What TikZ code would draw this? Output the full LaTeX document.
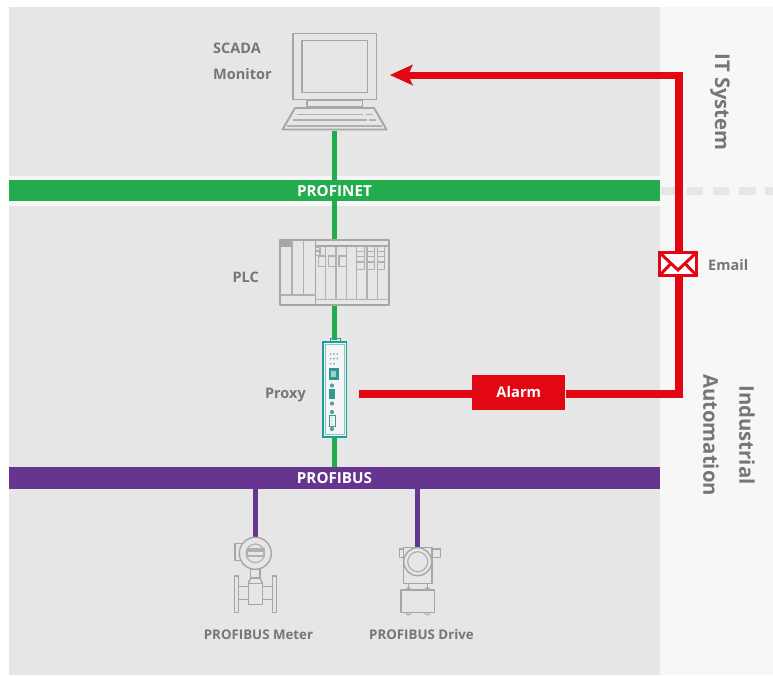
\documentclass[tikz,border=0pt]{standalone}
\usepackage{fontspec}
\setmainfont{Open Sans}
\definecolor{panel}{HTML}{E6E6E6}
\definecolor{side}{HTML}{F7F7F7}
\definecolor{gn}{HTML}{22AC4E}
\definecolor{pu}{HTML}{65358F}
\definecolor{rd}{HTML}{E30613}
\definecolor{ic}{HTML}{A6A6A6}
\definecolor{ic2}{HTML}{B0B0B0}
\definecolor{tx}{HTML}{767676}
\definecolor{tl}{HTML}{1D9E9A}
\definecolor{tg}{HTML}{5E9C9A}
\tikzset{
 lab/.style={font=\fontsize{14.5}{16}\selectfont\bfseries,text=tx,inner sep=0pt},
 lab2/.style={font=\fontsize{13.3}{15}\selectfont\bfseries,text=tx,inner sep=0pt},
 big/.style={font=\fontsize{20.3}{36}\selectfont\bfseries,text=tx,inner sep=0pt,rotate=-90,align=center},
 bus/.style={inner sep=0pt,minimum width=651pt,text=white,font=\fontsize{15.2}{16}\selectfont\bfseries},
 ico/.style={draw=ic,line width=1.9pt,line join=round},
 icm/.style={draw=ic,line width=1.4pt,line join=round},
 ict/.style={draw=ic2,line width=1.2pt},
 wire/.style={line width=5.2pt},
 redw/.style={draw=rd,line width=7.5pt},
}
\begin{document}
\begin{tikzpicture}[x=1pt,y=-1pt]
\useasboundingbox (0,0) rectangle (773,675);
\fill[white] (0,0) rectangle (773,675);
\fill[side] (660,7) rectangle (773,675);
\fill[panel] (9,7) rectangle (660,675);
\fill[side] (9,175.5) rectangle (660,206);
% dashed boundary
\draw[panel,line width=8pt,dash pattern=on 15pt off 11pt on 16pt off 10pt on 16pt off 10pt on 17pt off 9pt on 16pt off 10pt] (661,190.7) -- (773,190.7);
% buses and wires
\node[bus,fill=gn,minimum height=21pt] (profinet) at (334.5,190.5) {};
\node[bus,fill=pu,minimum height=21.5pt] (profibus) at (334.5,478.2) {};
\coordinate (scadaB) at (334.5,131);
\coordinate (proxyB) at (334.5,437);
\coordinate (meterT) at (255.3,537);
\coordinate (driveT) at (417.7,547);
\draw[gn,wire] (scadaB) -- (profinet.north -| scadaB);
\draw[gn,wire] (profinet.south -| scadaB) -- (334.5,340);
\draw[gn,wire] (proxyB) -- (profibus.north -| proxyB);
\draw[pu,wire] (meterT |- profibus.south) -- (meterT);
\draw[pu,wire] (driveT |- profibus.south) -- (driveT);
\node[text=white,font=\fontsize{15.2}{16}\selectfont\bfseries,inner sep=0pt] (pnt) at (334.5,191.5) {PROFINET};
\node[text=white,font=\fontsize{15.2}{16}\selectfont\bfseries,inner sep=0pt] (pbt) at (334.5,478.5) {PROFIBUS};
% SCADA monitor
\draw[ico,fill=panel] (293,33.5) rectangle (376.5,99.5);
\draw[icm] (302,40.5) rectangle (367.5,92.5);
\draw[ico] (307,100) rectangle (362.5,107);
\draw[ico] (295,108) -- (374,108) -- (386.5,129.5) -- (282.5,129.5) -- cycle;
\draw[ict] (287,126) -- (382,126);
\draw[ict] (297,114.5) -- (363,114.5) (366,114.5) -- (373,114.5);
\draw[ict] (293,120) -- (366.5,120) (369,120) -- (376,120);
\node[lab,anchor=west] (scada) at (213,48) {SCADA};
\node[lab,anchor=west] (monitor) at (213,74) {Monitor};
% PLC
\fill[panel] (280,240) rectangle (389,305);
\fill[ic] (280,240) rectangle (292,246.5);
\draw[ict] (292,240) -- (292,295) (303.3,240) -- (303.3,295);
\draw[ict] (280,295) -- (315.5,295);
\draw[ico] (315.5,246) -- (389,246);
\draw[ict] (315.5,299.3) -- (389,299.3);
\foreach \x in {325.5,336,346.5,356.7,367,377.3}{\draw[ict] (\x,247) -- (\x,299.3);}
\draw[ict] (315.7,247) rectangle (320,251);
\draw[ict] (315.7,251) rectangle (320,255.5);
\foreach \x in {318.3,328.7,339}{\draw[ict] (\x,256) rectangle ++(7.3,10.7);}
\foreach \x in {356.7,367,377.3}{
 \foreach \y/\h in {246.7/5,251.7/5,256.7/5.3,262/7.3}{\draw[ict] (\x,\y) rectangle ++(7.5,\h);}
}
\draw[icm] (315.5,240) -- (315.5,305);
\draw[ico] (280,240) rectangle (389,305);
\node[lab,anchor=east] (plc) at (259,277) {PLC};
% Proxy
\draw[tl,line width=1pt] (330,342) -- (330,338.3) -- (340,338.3) -- (340,342);
\fill[panel!40!white] (323,342) rectangle (346.5,437);
\draw[tl,line width=1.3pt] (323,342) rectangle (346.5,437);
\draw[tl!55!white,line width=.8pt] (325,344.5) rectangle (344.5,434);
\foreach \y in {354,358.7}{\foreach \x in {330.7,334,337.3}{\fill[tg] (\x,\y) circle (.8);}}
\foreach \x in {330.7,334}{\fill[tg] (\x,363.7) circle (.8);}
\fill[tl!80!gray] (329,368.3) rectangle (339,380);
\fill[tl!45!white] (331,370.5) rectangle (335.5,377);
\fill[tl!80!gray] (329.3,389.3) rectangle (335,399.3);
\fill[tg] (332,385.5) circle (2.1) (332,403.5) circle (2.1) (332,412) circle (2.1) (332,429) circle (2.1);
\draw[tl!70!gray,line width=.9pt] (329.5,415.5) rectangle (335.5,426);
\fill[tg] (332,418) circle (.7) (332,421) circle (.7) (332,424) circle (.7);
\node[lab,anchor=east] (proxy) at (306,395) {Proxy};
% Meter
\draw[icm,fill=panel] (235,543.5) rectangle (245,560.5);
\draw[icm] (250.7,569) rectangle (260,578);
\draw[icm] (248.3,583.3) -- (250.7,578) -- (260,578) -- (262.5,583.3);
\draw[icm,fill=panel] (234.5,576) rectangle (238.7,612.5);
\draw[icm,fill=panel] (272.3,576) rectangle (276.5,612.5);
\draw[icm] (238.7,586.7) -- (248.3,586.7) (238.7,599.3) -- (248.3,599.3) (262.5,586.7) -- (272.3,586.7) (262.5,599.3) -- (272.3,599.3);
\draw[icm,fill=panel] (248.3,583.3) rectangle (262.5,604.5);
\draw[icm,fill=panel] (255.3,553.3) circle (16);
\draw[ict] (255.3,553.3) circle (9.3);
\draw[ict] (247.5,549) rectangle (264,556);
\draw[ict] (247.5,551) -- (264,551);
% Drive
\draw[icm,fill=panel] (399.3,549) rectangle (404,557.3);
\draw[icm,fill=panel] (425,549) rectangle (440.5,557.3);
\draw[icm,fill=panel] (403.5,547.5) rectangle (432,583.3);
\draw[icm,fill=panel] (417.7,561.7) circle (14);
\draw[ict] (417.7,561.7) circle (10);
\draw[icm] (408.3,583.3) -- (408.3,590) (427.3,583.3) -- (427.3,590);
\draw[icm,fill=panel] (401,590) rectangle (434.3,612.3);
\draw[ict] (405.8,590) arc (180:360:2.5);
\draw[ict] (424.8,590) arc (180:360:2.5);
\draw[ict] (405.8,612.3) arc (180:0:2.5);
\draw[ict] (424.8,612.3) arc (180:0:2.5);
\node[lab2] (mlab) at (258.5,634.5) {PROFIBUS Meter};
\node[lab2] (dlab) at (421.5,634.5) {PROFIBUS Drive};
% Red
\node[fill=rd,inner sep=0pt,minimum width=93pt,minimum height=34.7pt,text=white,font=\fontsize{14.7}{16}\selectfont\bfseries] (alarm) at (518.8,392.3) {Alarm};
\coordinate (pStart) at (358.5,394);
\coordinate (corner) at (679,394);
\coordinate (top) at (679,75.5);
\coordinate (tip) at (390,75);
\draw[redw] (pStart) -- (alarm.west |- pStart);
\draw[redw,line join=miter] (alarm.east |- corner) -- (corner) -- (top) -- (408,75.5);
\fill[rd] (tip) -- (413,64.5) -- (408,75) -- (413,85.5) -- cycle;
\node[draw=rd,line width=3pt,fill=white,minimum width=37pt,minimum height=23pt,inner sep=0pt,outer sep=0pt] (mail) at (678,264) {};
\draw[rd,line width=3pt] (mail.north west) -- (678,270) -- (mail.north east);
\draw[rd,line width=3pt] (mail.south west) -- (671,263.5) (mail.south east) -- (685,263.5);
\node[lab,anchor=west] (email) at (708,265) {Email};
\node[big] (it) at (720,102) {IT System};
\node[big] (ia) at (729,435) {Industrial\\Automation};
\end{tikzpicture}
\end{document}
